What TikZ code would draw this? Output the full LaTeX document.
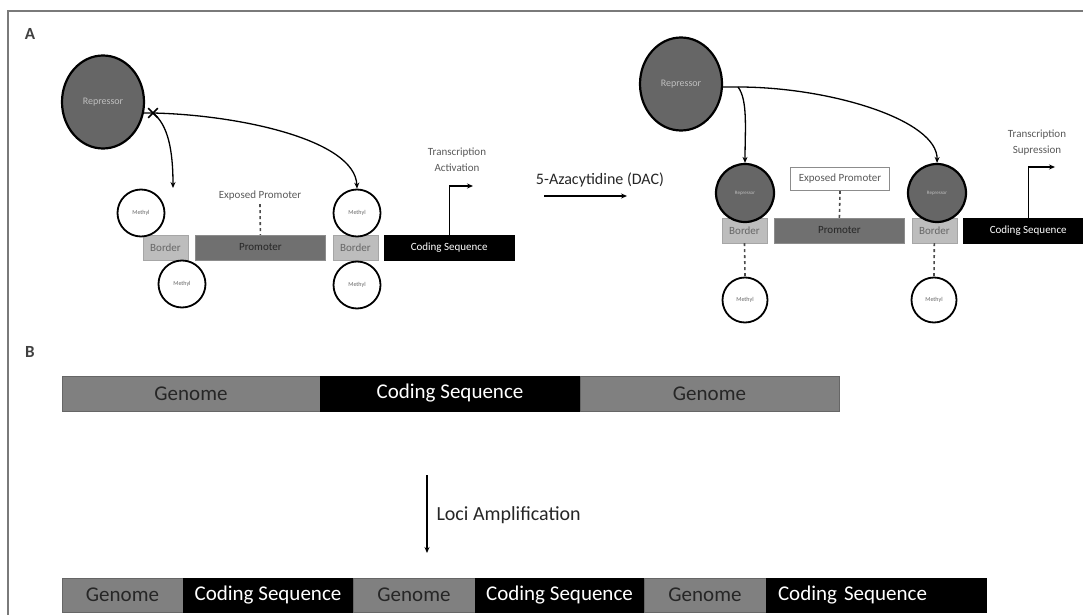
\documentclass[tikz,border=0pt]{standalone}
\usepackage{fontspec}
\setmainfont{Carlito}
\usetikzlibrary{shapes.geometric, shapes.misc, arrows.meta, positioning}
\definecolor{repgray}{HTML}{666666}
\definecolor{promgray}{HTML}{707070}
\definecolor{bordgray}{HTML}{BDBDBD}
\definecolor{genomegray}{HTML}{808080}
\definecolor{framegray}{HTML}{7A7A7A}
\tikzstyle{arrow} = [line width=1.3pt, -{Stealth[length=6pt,width=5pt]}]
\tikzstyle{repressor} = [ellipse, draw=black, line width=2.2pt, fill=repgray, text=white!75!black,
                         minimum width=82pt, minimum height=93pt, inner sep=0pt, font=\fontsize{10}{12}\selectfont]
\tikzstyle{minirep} = [repressor, minimum width=58pt, minimum height=58pt, font=\fontsize{5}{6}\selectfont]
\tikzstyle{methyl} = [circle, draw=black, line width=1.8pt, fill=white, minimum size=47pt, inner sep=0pt,
                      text=black!60, font=\fontsize{6}{7}\selectfont]
\tikzstyle{borderbox} = [rectangle, draw=black!35, fill=bordgray, minimum width=45pt, minimum height=25pt,
                         inner sep=0pt, text=black!60, font=\fontsize{11}{12}\selectfont]
\tikzstyle{promoter} = [borderbox, fill=promgray, draw=black!45, minimum width=130pt, text=black!85]
\tikzstyle{codebox} = [borderbox, fill=black, draw=black, minimum width=130pt, text=white, font=\fontsize{11}{12}\selectfont]
\tikzstyle{smalltext} = [text=black!65, font=\fontsize{11}{16}\selectfont, align=center]
\tikzstyle{dashlink} = [dashed, line width=1.6pt, black!70]
\tikzstyle{genome} = [rectangle, draw=black!60, fill=genomegray, minimum height=35pt, inner sep=0pt, outer sep=0pt,
                      text=black!85, font=\fontsize{21}{24}\selectfont]
\tikzstyle{codeseg} = [genome, fill=black, draw=black, text=white]
\tikzstyle{panel} = [text=black!75, font=\fontsize{17}{18}\selectfont\bfseries]

\begin{document}
\begin{tikzpicture}[x=1pt, y=-1pt]
    \useasboundingbox (0,0) rectangle (1083,615);
    % Frame and panel letters
    \draw[framegray, line width=1.6pt] (8,618) -- (8,11) -- (1086,11);
    \node[panel] (labA) at (30,34) {A};
    \node[panel] (labB) at (30,352) {B};

    % Panel A - before treatment
    \node[repressor] (repA) at (103,102) {Repressor};
    \node[borderbox] (bA1) at (165.5,247.5) {Border};
    \node[promoter, right=7pt of bA1] (pA) {Promoter};
    \node[borderbox, right=7pt of pA] (bA2) {Border};
    \node[codebox, right=6pt of bA2] (csA) {Coding Sequence};
    \node[methyl] (mA1) at (141,213) {Methyl};
    \node[methyl] (mA2) at (182,284) {Methyl};
    \node[methyl] (mA3) at (357,213) {Methyl};
    \node[methyl] (mA4) at (357,285) {Methyl};
    \node[smalltext] (expA) at (260,196) {Exposed Promoter};
    \node[smalltext] (taA) at (457,160) {Transcription\\Activation};
    \coordinate (xA) at (153,113);
    \coordinate (hitA) at (173,188);
    \coordinate (tipA) at (473,186);

    \draw[line width=1.3pt] (repA.-15) -- (xA);
    \node[cross out, draw=black, line width=1.6pt, minimum size=8pt, inner sep=0pt] (crossA) at (xA) {};
    \draw[arrow] (xA) .. controls (240,115) and (355,140) .. (mA3.north);
    \draw[arrow] (xA) .. controls (168,125) and (173,150) .. (hitA);
    \draw[dashlink] (expA.south) -- (pA.north);
    \draw[arrow] (csA.north) |- (tipA);

    % Treatment
    \node[text=black!85, font=\fontsize{16}{18}\selectfont] (dac) at (600,180) {5-Azacytidine (DAC)};
    \coordinate (dacS) at (544,196);
    \coordinate (dacE) at (627,196);
    \draw[arrow, line width=1.8pt] (dacS) -- (dacE);

    % Panel A - after treatment
    \node[repressor] (repB) at (681,84) {Repressor};
    \node[borderbox] (bB1) at (744.5,230.5) {Border};
    \node[promoter, right=7pt of bB1] (pB) {Promoter};
    \node[borderbox, right=7pt of pB] (bB2) {Border};
    \node[codebox, right=6pt of bB2] (csB) {Coding Sequence};
    \node[minirep] (rB1) at (745,193) {Repressor};
    \node[minirep] (rB2) at (937,193) {Repressor};
    \node[methyl, minimum size=45pt] (mB1) at (745,300) {Methyl};
    \node[methyl, minimum size=45pt] (mB2) at (934,300) {Methyl};
    \node[smalltext, draw=black!45, line width=0.8pt, fill=white, minimum width=99pt, minimum height=23pt, inner sep=1pt] (expB) at (840,179) {Exposed Promoter};
    \node[smalltext] (tsB) at (1037,143) {Transcription\\Supression};
    \coordinate (brB) at (738,87);
    \coordinate (tipB) at (1055,167);

    \draw[arrow] (repB.-4) -- (brB) .. controls (830,87) and (938,120) .. (rB2.north);
    \draw[arrow] (brB) .. controls (748,100) and (745,130) .. (rB1.north);
    \draw[dashlink] (expB.south) -- (pB.north);
    \draw[dashlink] (bB1.south) -- (mB1.north);
    \draw[dashlink] (bB2.south) -- (mB2.north);
    \draw[arrow] (csB.north) |- (tipB);

    % Panel B - genome strip
    \node[genome, minimum width=258pt] (g1) at (191,393.5) {Genome};
    \node[codeseg, minimum width=260pt, right=0pt of g1] (c1) {Coding Sequence};
    \node[genome, minimum width=259pt, right=0pt of c1] (g2) {Genome};

    % Amplification
    \coordinate (lociS) at (427,475);
    \coordinate (lociE) at (427,553);
    \draw[arrow, line width=1.2pt] (lociS) -- (lociE);
    \node[anchor=west, text=black!85, font=\fontsize{20}{24}\selectfont] (loci) at (433,515) {Loci Amplification};

    % Panel B - amplified strip
    \node[genome, minimum width=121pt, minimum height=34pt] (a1) at (122.5,595) {Genome};
    \node[codeseg, minimum width=170pt, minimum height=34pt, right=0pt of a1] (a2) {Coding Sequence};
    \node[genome, minimum width=122pt, minimum height=34pt, right=0pt of a2] (a3) {Genome};
    \node[codeseg, minimum width=169pt, minimum height=34pt, right=0pt of a3] (a4) {Coding Sequence};
    \node[genome, minimum width=122pt, minimum height=34pt, right=0pt of a4] (a5) {Genome};
    \node[codeseg, minimum width=220pt, minimum height=34pt, text width=196pt, align=left, inner xsep=12pt, right=0pt of a5] (a6) {Coding Sequence};
\end{tikzpicture}
\end{document}
